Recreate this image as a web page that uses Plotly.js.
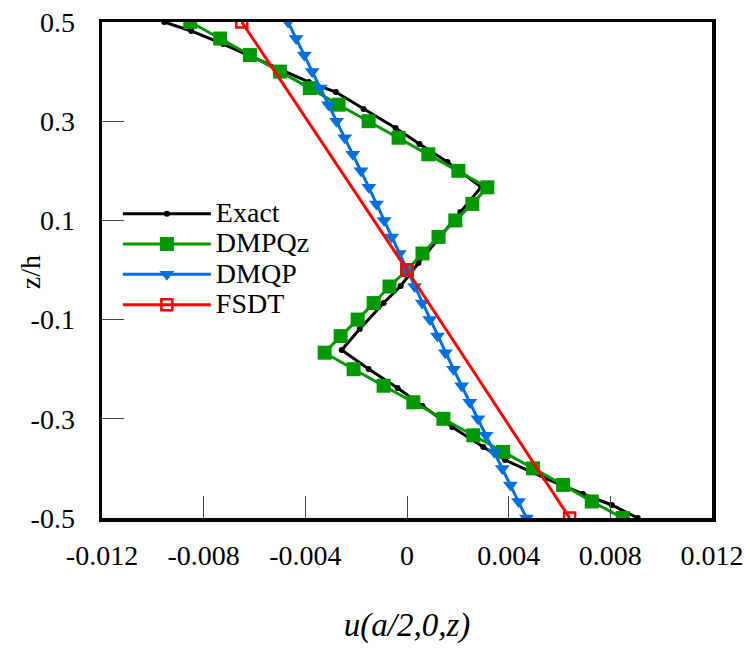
<!DOCTYPE html>
<html>
<head>
<meta charset="utf-8">
<script src="https://cdn.plot.ly/plotly-3.0.1.min.js"></script>
<style>html,body{margin:0;padding:0;background:#fff;}#chart{width:750px;height:650px;}</style>
</head>
<body>
<div id="chart"></div>
<script>
// z/h positions for the layered-model series (31 points, top to bottom)
var zModel = [0.5, 0.4667, 0.4333, 0.4, 0.3667, 0.3333, 0.3, 0.2667, 0.2333, 0.2, 0.1667,
  0.1333, 0.1, 0.0667, 0.0333, 0.0, -0.0333, -0.0667, -0.1, -0.1333,
  -0.1667, -0.2, -0.2333, -0.2667, -0.3, -0.3333, -0.3667, -0.4, -0.4333, -0.4667, -0.5];

// Exact solution
var zExact = [0.5, 0.4819, 0.4556, 0.4294, 0.4032, 0.379, 0.3589, 0.3246, 0.2863, 0.254, 0.2177, 0.1673,
  0.1169, 0.0645, 0.0141, -0.0323, -0.0665, -0.119, -0.1613,
  -0.1996, -0.2379, -0.2742, -0.3165, -0.3569, -0.383, -0.4194, -0.4516, -0.4738, -0.5];
var uExact = [-0.00955, -0.00849, -0.00723, -0.00606, -0.00496, -0.00386, -0.00280, -0.00171, -0.00045, 0.00049, 0.00159, 0.00292,
  0.00210, 0.00124, 0.00045, -0.00025, -0.00092, -0.00186, -0.00257,
  -0.00151, -0.00037, 0.00061, 0.00178, 0.00300, 0.00386, 0.00543, 0.00692, 0.00806, 0.00908];

// DMPQz
var uDMPQz = [-0.00853, -0.00735, -0.00618, -0.00500, -0.00382, -0.00269, -0.00151, -0.00033, 0.00084, 0.00202, 0.00316,
  0.00257, 0.00190, 0.00124, 0.00061, 0.00000, -0.00069, -0.00131, -0.00194, -0.00261,
  -0.00324, -0.00210, -0.00092, 0.00025, 0.00143, 0.00261, 0.00378, 0.00496, 0.00614, 0.00727, 0.00849];

// DMQP
var uDMQP = [-0.00468, -0.00436, -0.00404, -0.00373, -0.00341, -0.00309, -0.00277, -0.00245, -0.00213, -0.00181, -0.00150,
  -0.00120, -0.00090, -0.00060, -0.00030, 0.00000, 0.00030, 0.00060, 0.00090, 0.00120,
  0.00151, 0.00183, 0.00215, 0.00247, 0.00279, 0.00311, 0.00343, 0.00375, 0.00407, 0.00439, 0.00470];

// FSDT
var zFSDT = [0.5, 0.0, -0.5];
var uFSDT = [-0.0065, 0.0, 0.0064];

var seriesNames = ["Exact", "DMPQz", "DMQP", "FSDT"];
var xTickVals = [-0.012, -0.008, -0.004, 0, 0.004, 0.008, 0.012];
var xTickText = ["-0.012", "-0.008", "-0.004", "0", "0.004", "0.008", "0.012"];
var yTickVals = [-0.5, -0.3, -0.1, 0.1, 0.3, 0.5];
var yTickText = ["-0.5", "-0.3", "-0.1", "0.1", "0.3", "0.5"];

var FONT = "Liberation Serif";

function legendName(s) { return '<span style="font-size:28px">' + s + '</span>'; }

var traces = [
  {name: legendName(seriesNames[0]), x: uExact, y: zExact, mode: "lines+markers",
   line: {color: "#000000", width: 3}, marker: {symbol: "circle", size: 6, color: "#000000"}},
  {name: legendName(seriesNames[1]), x: uDMPQz, y: zModel, mode: "lines+markers",
   line: {color: "#009900", width: 3}, marker: {symbol: "square", size: 14, color: "#009900"}},
  {name: legendName(seriesNames[2]), x: uDMQP, y: zModel, mode: "lines+markers",
   line: {color: "#0070E0", width: 3}, marker: {symbol: "triangle-down", size: 13, color: "#0070E0"}},
  {name: legendName(seriesNames[3]), x: uFSDT, y: zFSDT, mode: "lines+markers",
   line: {color: "#FF0000", width: 3}, marker: {symbol: "square-open", size: 11, color: "#FF0000", line: {width: 2.5, color: "#FF0000"}}}
];

var layout = {
  width: 750, height: 650,
  margin: {l: 102, r: 38, t: 22, b: 132},
  paper_bgcolor: "#ffffff", plot_bgcolor: "#ffffff",
  font: {family: FONT, size: 28, color: "#000000"},
  showlegend: true,
  legend: {x: 0.026, y: 0.654, xanchor: "left", yanchor: "top", bgcolor: "rgba(0,0,0,0)",
           font: {family: FONT, size: 21, color: "#000"}, itemwidth: 88, tracegroupgap: 0},
  xaxis: {
    range: [-0.012, 0.012], tickmode: "array", tickvals: xTickVals, ticktext: xTickText,
    ticks: "inside", ticklen: 22, tickwidth: 1, tickcolor: "#444",
    showline: true, linewidth: 3.5, linecolor: "#000", mirror: true,
    showgrid: false, zeroline: false, ticklabelstandoff: 10,
    tickfont: {family: FONT, size: 28, color: "#000"},
    title: {text: "u(a/2,0,z)", font: {family: FONT, size: 33, color: "#000", style: "italic"}, standoff: 44}
  },
  yaxis: {
    range: [-0.5, 0.5], tickmode: "array", tickvals: yTickVals, ticktext: yTickText,
    ticks: "inside", ticklen: 22, tickwidth: 1, tickcolor: "#444",
    showline: true, linewidth: 3.5, linecolor: "#000", mirror: true,
    showgrid: false, zeroline: false, ticklabelstandoff: 18,
    tickfont: {family: FONT, size: 28, color: "#000"}
  },
  annotations: [
    {text: "z/h", xref: "paper", yref: "paper", x: -0.116, y: 0.496, xanchor: "center", yanchor: "middle",
     textangle: -90, showarrow: false, font: {family: FONT, size: 28, color: "#000"}}
  ]
};

Plotly.newPlot("chart", traces, layout, {displayModeBar: false, staticPlot: true});
</script>
</body>
</html>
